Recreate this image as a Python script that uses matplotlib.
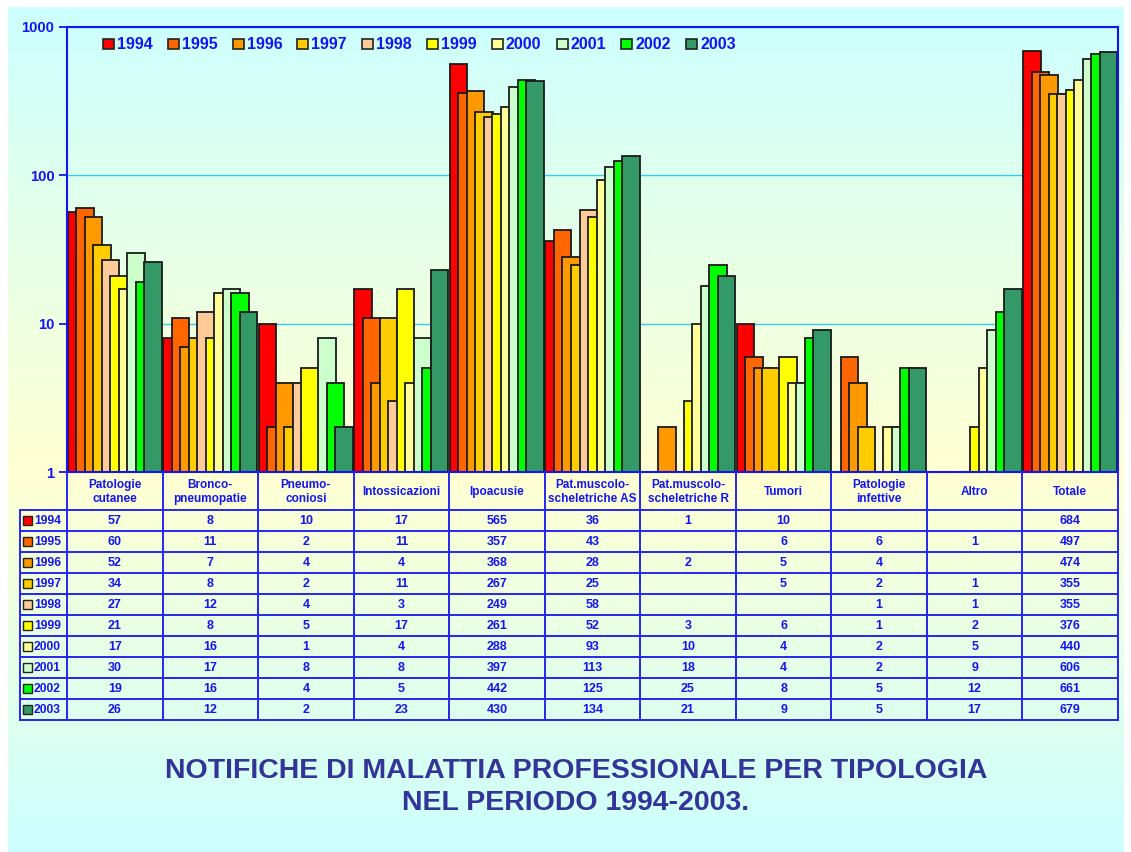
import numpy as np
import matplotlib
matplotlib.use("Agg")
import matplotlib.pyplot as plt
from matplotlib.patches import Rectangle

plt.rcParams['font.family'] = ['Liberation Sans', 'DejaVu Sans']
plt.rcParams['font.weight'] = 'bold'

# ---- data ----
categories = ["Patologie\ncutanee", "Bronco-\npneumopatie", "Pneumo-\nconiosi",
              "Intossicazioni", "Ipoacusie", "Pat.muscolo-\nscheletriche AS",
              "Pat.muscolo-\nscheletriche R", "Tumori", "Patologie\ninfettive",
              "Altro", "Totale"]
years = ["1994", "1995", "1996", "1997", "1998", "1999", "2000", "2001", "2002", "2003"]
colors = ["#FF0000", "#FF6600", "#FF9900", "#FFCC00", "#FFCC99",
          "#FFFF00", "#FFFF99", "#CCFFCC", "#00FF00", "#339966"]

# one list per year, one value per category (None = empty cell)
v1994 = [57, 8, 10, 17, 565, 36, 1, 10, None, None, 684]
v1995 = [60, 11, 2, 11, 357, 43, None, 6, 6, 1, 497]
v1996 = [52, 7, 4, 4, 368, 28, 2, 5, 4, None, 474]
v1997 = [34, 8, 2, 11, 267, 25, None, 5, 2, 1, 355]
v1998 = [27, 12, 4, 3, 249, 58, None, None, 1, 1, 355]
v1999 = [21, 8, 5, 17, 261, 52, 3, 6, 1, 2, 376]
v2000 = [17, 16, 1, 4, 288, 93, 10, 4, 2, 5, 440]
v2001 = [30, 17, 8, 8, 397, 113, 18, 4, 2, 9, 606]
v2002 = [19, 16, 4, 5, 442, 125, 25, 8, 5, 12, 661]
v2003 = [26, 12, 2, 23, 430, 134, 21, 9, 5, 17, 679]
values = [v1994, v1995, v1996, v1997, v1998, v1999, v2000, v2001, v2002, v2003]

W, H = 1131, 852
BLUE = '#1414F5'
fig = plt.figure(figsize=(W / 100, H / 100), dpi=100)
fig.patch.set_facecolor('white')

# background gradient (cyan -> light yellow -> cyan)
bg = fig.add_axes([0, 0, 1, 1], zorder=0)
bg.set_xlim(0, W)
bg.set_ylim(H, 0)
bg.axis('off')
ys = np.arange(7, H)
cyan = np.array([204, 255, 255]) / 255
yel = np.array([255, 255, 210]) / 255
t = np.interp(ys, [7, 470, H], [0, 1, 0])
grad = cyan[None, :] * (1 - t[:, None]) + yel[None, :] * t[:, None]
bg.imshow(grad[:, None, :], extent=[8, 1124, H, 7], aspect='auto', interpolation='bilinear')

# ---- main bar chart ----
ax = fig.add_axes([67 / W, 1 - 472 / H, 1051 / W, 445 / H], zorder=1)
ax.set_facecolor('none')
ax.set_yscale('log')
ax.set_xlim(-0.5, 10.5)
ax.set_ylim(1, 1000)

n = len(years)
step = 0.089
bw = 0.183
start = -0.5 + (1 - ((n - 1) * step + bw)) / 2
x = np.arange(len(categories))
for j in range(n):
    vals = np.array([np.nan if v is None else v for v in values[j]], dtype=float)
    ax.bar(x + start + j * step, vals, width=bw, align='edge', color=colors[j],
           edgecolor='#1a1a1a', linewidth=1.3, zorder=3 + j)

ax.set_yticks([1, 10, 100, 1000])
ax.set_yticklabels(['1', '10', '100', '1000'])
ax.yaxis.set_minor_locator(matplotlib.ticker.NullLocator())
ax.tick_params(axis='y', colors=BLUE, labelcolor=BLUE, labelsize=10.7,
               length=6, width=1.3, direction='out', pad=3)
for lab in ax.get_yticklabels():
    lab.set_fontweight('bold')
ax.set_xticks([])
ax.yaxis.grid(True, color='#33CCEE', linewidth=1.0, zorder=1)
ax.set_axisbelow(True)
for s in ax.spines.values():
    s.set_color(BLUE)
    s.set_linewidth(1.5)
    s.set_zorder(30)

# ---- overlay (legend, table, title) in pixel coordinates ----
ov = fig.add_axes([0, 0, 1, 1], zorder=5)
ov.set_facecolor('none')
ov.set_xlim(0, W)
ov.set_ylim(H, 0)
ov.axis('off')

# legend
for j, yr in enumerate(years):
    lx = 103 + j * 64.8
    ov.add_patch(Rectangle((lx, 39), 11, 10, facecolor=colors[j], edgecolor='#222222', lw=1.2))
    ov.text(lx + 14, 44.5, yr, color=BLUE, fontsize=11.5, fontweight='bold', va='center', ha='left')

# column edges from main axes scale
fig.canvas.draw()
def xpix(v):
    return ax.transData.transform((v, 1))[0]

edges = [xpix(i - 0.5) for i in range(len(categories) + 1)]
centers = [xpix(i) for i in range(len(categories))]
top, head_bot, row_h = 472, 510, 21
tab_left = 20
bottom = head_bot + row_h * n
lc = '#2626F0'
# vertical lines
for e in edges:
    ov.plot([e, e], [top, bottom], color=lc, lw=1.4)
ov.plot([tab_left, tab_left], [head_bot, bottom], color=lc, lw=1.4)
# horizontal lines
for r in range(n + 1):
    yy = head_bot + r * row_h
    ov.plot([tab_left, edges[-1]], [yy, yy], color=lc, lw=1.4)

# header
for i, c in enumerate(categories):
    ov.text(centers[i], (top + head_bot) / 2 + 1, c, color=BLUE, fontsize=8.5, fontweight='bold',
            ha='center', va='center', linespacing=1.25)

# rows
for j, yr in enumerate(years):
    yc = head_bot + j * row_h + row_h / 2
    ov.add_patch(Rectangle((23, yc - 4.5), 9, 9, facecolor=colors[j], edgecolor='#222222', lw=1.0))
    ov.text(34, yc + 0.5, yr, color=BLUE, fontsize=8.7, fontweight='bold', ha='left', va='center')
    for i, v in enumerate(values[j]):
        if v is not None:
            ov.text(centers[i], yc + 0.5, str(v), color=BLUE, fontsize=9, fontweight='bold',
                    ha='center', va='center')

# title
ov.text(576, 771, "NOTIFICHE DI MALATTIA PROFESSIONALE PER TIPOLOGIA", color='#333399',
        fontsize=20.5, fontweight='bold', ha='center', va='center')
ov.text(576, 803, "NEL PERIODO 1994-2003.", color='#333399',
        fontsize=20.5, fontweight='bold', ha='center', va='center')

fig.savefig('out.png', dpi=100)
